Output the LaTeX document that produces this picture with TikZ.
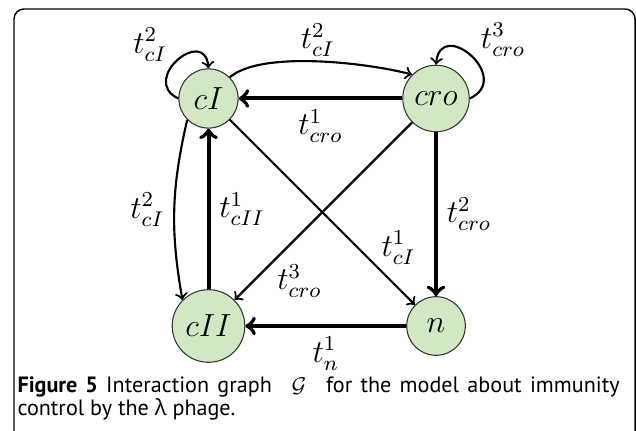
\documentclass[tikz,border=0pt]{standalone}
\usepackage{fontspec}
\setsansfont{PT Sans}
\newfontfamily\greekfont{Open Sans}
\usetikzlibrary{positioning}
\definecolor{nodegreen}{RGB}{210,232,196}

\begin{document}
\begin{tikzpicture}[
  x=0.3752pt, y=0.3752pt,
  font=\fontsize{12}{14}\selectfont,
  node distance=3cm, on grid,
  state/.style={circle, draw=black!80, thin, fill=nodegreen, minimum size=22pt, inner sep=3pt},
  link/.style={->, thick},
  strong/.style={->, line width=1.5pt},
  lbl/.style={inner sep=1pt},
  capline/.style={font=\sffamily\fontsize{8.3}{10}\selectfont, anchor=base west, inner sep=0pt}
]
\useasboundingbox (0,0) rectangle (636,430);
\draw[line width=0.55pt, rounded corners=3.75pt] (14,-20) rectangle (635,421);

% the four genes
\node[state] (cI) at (208.5,331.5) {$cI$};
\node[state, right=of cI] (cro) {$cro$};
\node[state, below=of cI] (cII) {$cII$};
\node[state, below=of cro] (n) {$n$};

% interactions
\draw[link] (cI.west) to[out=155, in=95, looseness=2.6] node[above left, yshift=-4pt] {$t^2_{cI}$} (cI.north);
\draw[link] (cro.east) to[out=25, in=85, looseness=2.6] node[above right, yshift=-4pt] {$t^3_{cro}$} (cro.north);
\draw[link] (cI.45) to[out=40, in=165, looseness=0.6] node[above, yshift=-2pt] {$t^2_{cI}$} (cro.135);
\draw[strong] (cro) -- node[below] {$t^1_{cro}$} (cI);
\draw[strong] (cII) -- node[right] {$t^1_{cII}$} (cI);
\draw[link] (cI.225) to[out=257, in=100] node[left] {$t^2_{cI}$} (cII.135);
\draw[strong] (cro) -- node[right] {$t^2_{cro}$} (n);
\draw[link] (cro) -- node[lbl, pos=0.78, below right] {$t^3_{cro}$} (cII);
\draw[link] (cI) -- node[lbl, pos=0.8, above right] {$t^1_{cI}$} (n);
\draw[strong] (n) -- node[below] {$t^1_n$} (cII);

% caption
\node[capline] (cap1) at (17,37) {\makebox[225.9pt][s]{\textbf{Figure 5} Interaction graph $\;\mathcal{G}\;$ for the model about immunity}};
\node[capline] (cap2) at ([yshift=-8.4pt]cap1.base west) {control by the {\greekfont λ} phage.};
\end{tikzpicture}
\end{document}
